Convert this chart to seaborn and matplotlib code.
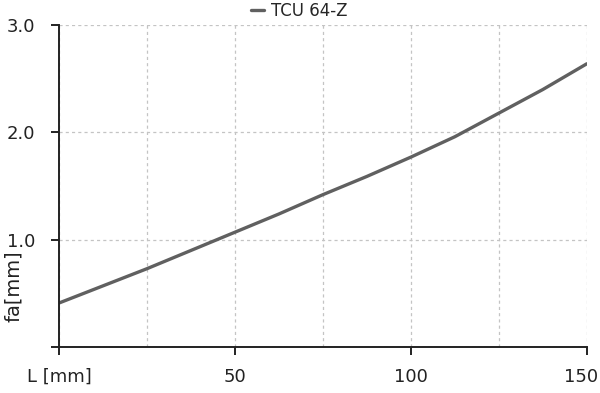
import matplotlib
matplotlib.use('Agg')
import matplotlib.pyplot as plt
import matplotlib.transforms as mtransforms
import seaborn as sns
import pandas as pd
from matplotlib.ticker import FixedLocator

# values
length_mm = [0, 12.5, 25, 37.5, 50, 62.5, 75, 87.5, 100, 112.5, 125, 137.5, 150]
deflection_mm = [0.41, 0.57, 0.73, 0.90, 1.07, 1.24, 1.42, 1.59, 1.77, 1.96, 2.18, 2.40, 2.64]
series_name = 'TCU 64-Z'

df = pd.DataFrame({'L': length_mm, 'fa': deflection_mm, 'series': series_name})

sns.set_style('white')
plt.rcParams['font.family'] = ['DejaVu Sans']

fig, ax = plt.subplots(figsize=(6, 3.93), dpi=100)
fig.subplots_adjust(left=0.0983, right=0.978, top=0.936, bottom=0.117)

sns.lineplot(data=df, x='L', y='fa', hue='series', palette=['#606060'],
             linewidth=2.4, ax=ax)

ax.set_xlim(0, 150)
ax.set_ylim(0, 3.0)
ax.xaxis.set_major_locator(FixedLocator([0, 50, 100, 150]))
ax.xaxis.set_minor_locator(FixedLocator([25, 75, 125]))
ax.yaxis.set_major_locator(FixedLocator([0, 1, 2, 3]))
ax.set_xticklabels(['L [mm]', '50', '100', '150'])
ax.set_yticklabels(['', '1.0', '2.0', '3.0'])

ax.grid(True, which='both', linestyle=(0, (2.5, 2.5)), color='#c4c4c4', linewidth=0.9)
ax.tick_params(axis='both', which='major', direction='out', length=6, width=1.4,
               color='#222222', labelsize=13, labelcolor='#222222', left=True, bottom=True)
ax.tick_params(axis='x', which='major', pad=9)
ax.tick_params(axis='y', which='major', pad=11)
ax.tick_params(axis='x', which='minor', length=0)
for s in ['top', 'right']:
    ax.spines[s].set_visible(False)
for s in ['left', 'bottom']:
    ax.spines[s].set_color('#222222')
    ax.spines[s].set_linewidth(1.4)

# keep the last x label inside the figure edge
last = ax.get_xticklabels()[-1]
last.set_transform(last.get_transform() + mtransforms.ScaledTranslation(-4 / 72, 0, fig.dpi_scale_trans))

ax.set_xlabel('')
ax.set_ylabel('fa[mm]', fontsize=14, color='#222222')
ax.yaxis.set_label_coords(-0.068, 0.19)

ax.legend(handles=ax.get_legend_handles_labels()[0],
          labels=[series_name], loc='lower center', bbox_to_anchor=(0.455, 1.015),
          frameon=False, fontsize=12, handlelength=0.8, handletextpad=0.4,
          borderaxespad=0, borderpad=0)

fig.savefig('out.png', dpi=100)
